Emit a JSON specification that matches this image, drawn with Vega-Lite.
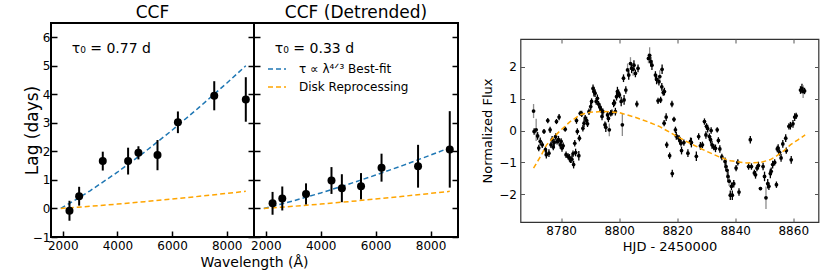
{
  "$schema": "https://vega.github.io/schema/vega-lite/v6.json",
  "padding": {"left": 22, "top": 3, "right": 5, "bottom": 5},
  "config": {
    "font": "DejaVu Sans",
    "view": {"stroke": "black", "strokeWidth": 2},
    "axis": {"domain": false, "grid": false, "tickColor": "black", "tickSize": -6, "tickWidth": 1.5, "labelFontSize": 12, "labelColor": "black", "titleColor": "black", "titleFontWeight": "normal", "labelPadding": 9, "labelFlush": false, "labelOverlap": false},
    "title": {"fontWeight": "normal", "fontSize": 17, "color": "black"}
  },
  "datasets": {
    "lags": [
      {"method": "CCF", "wl": 2246, "lag": -0.08, "err": 0.35},
      {"method": "CCF", "wl": 2600, "lag": 0.43, "err": 0.33},
      {"method": "CCF", "wl": 3465, "lag": 1.66, "err": 0.33},
      {"method": "CCF", "wl": 4392, "lag": 1.66, "err": 0.47},
      {"method": "CCF", "wl": 4770, "lag": 1.95, "err": 0.23},
      {"method": "CCF", "wl": 5468, "lag": 1.87, "err": 0.53},
      {"method": "CCF", "wl": 6215, "lag": 3.02, "err": 0.38},
      {"method": "CCF", "wl": 7545, "lag": 3.95, "err": 0.51},
      {"method": "CCF", "wl": 8700, "lag": 3.82, "err": 0.78},
      {"method": "Detrended", "wl": 2246, "lag": 0.18, "err": 0.40},
      {"method": "Detrended", "wl": 2600, "lag": 0.35, "err": 0.42},
      {"method": "Detrended", "wl": 3465, "lag": 0.51, "err": 0.37},
      {"method": "Detrended", "wl": 4392, "lag": 0.98, "err": 0.47},
      {"method": "Detrended", "wl": 4770, "lag": 0.71, "err": 0.49},
      {"method": "Detrended", "wl": 5468, "lag": 0.78, "err": 0.46},
      {"method": "Detrended", "wl": 6215, "lag": 1.43, "err": 0.49},
      {"method": "Detrended", "wl": 7545, "lag": 1.48, "err": 0.75},
      {"method": "Detrended", "wl": 8700, "lag": 2.07, "err": 1.34}
    ],
    "models": [
      {"method": "CCF", "model": "τ ∝ λ⁴ᐟ³ Best-fit", "wl": 1928, "lag": 0},
      {"method": "CCF", "model": "τ ∝ λ⁴ᐟ³ Best-fit", "wl": 2500, "lag": 0.32},
      {"method": "CCF", "model": "τ ∝ λ⁴ᐟ³ Best-fit", "wl": 3000, "lag": 0.62},
      {"method": "CCF", "model": "τ ∝ λ⁴ᐟ³ Best-fit", "wl": 4000, "lag": 1.27},
      {"method": "CCF", "model": "τ ∝ λ⁴ᐟ³ Best-fit", "wl": 5000, "lag": 1.98},
      {"method": "CCF", "model": "τ ∝ λ⁴ᐟ³ Best-fit", "wl": 6000, "lag": 2.74},
      {"method": "CCF", "model": "τ ∝ λ⁴ᐟ³ Best-fit", "wl": 7000, "lag": 3.55},
      {"method": "CCF", "model": "τ ∝ λ⁴ᐟ³ Best-fit", "wl": 8000, "lag": 4.39},
      {"method": "CCF", "model": "τ ∝ λ⁴ᐟ³ Best-fit", "wl": 8700, "lag": 5.0},
      {"method": "CCF", "model": "Disk Reprocessing", "wl": 1928, "lag": 0},
      {"method": "CCF", "model": "Disk Reprocessing", "wl": 2500, "lag": 0.038},
      {"method": "CCF", "model": "Disk Reprocessing", "wl": 3000, "lag": 0.075},
      {"method": "CCF", "model": "Disk Reprocessing", "wl": 4000, "lag": 0.153},
      {"method": "CCF", "model": "Disk Reprocessing", "wl": 5000, "lag": 0.238},
      {"method": "CCF", "model": "Disk Reprocessing", "wl": 6000, "lag": 0.33},
      {"method": "CCF", "model": "Disk Reprocessing", "wl": 7000, "lag": 0.426},
      {"method": "CCF", "model": "Disk Reprocessing", "wl": 8000, "lag": 0.527},
      {"method": "CCF", "model": "Disk Reprocessing", "wl": 8700, "lag": 0.6},
      {"method": "Detrended", "model": "τ ∝ λ⁴ᐟ³ Best-fit", "wl": 1928, "lag": 0},
      {"method": "Detrended", "model": "τ ∝ λ⁴ᐟ³ Best-fit", "wl": 2500, "lag": 0.137},
      {"method": "Detrended", "model": "τ ∝ λ⁴ᐟ³ Best-fit", "wl": 3000, "lag": 0.265},
      {"method": "Detrended", "model": "τ ∝ λ⁴ᐟ³ Best-fit", "wl": 4000, "lag": 0.543},
      {"method": "Detrended", "model": "τ ∝ λ⁴ᐟ³ Best-fit", "wl": 5000, "lag": 0.846},
      {"method": "Detrended", "model": "τ ∝ λ⁴ᐟ³ Best-fit", "wl": 6000, "lag": 1.17},
      {"method": "Detrended", "model": "τ ∝ λ⁴ᐟ³ Best-fit", "wl": 7000, "lag": 1.511},
      {"method": "Detrended", "model": "τ ∝ λ⁴ᐟ³ Best-fit", "wl": 8000, "lag": 1.87},
      {"method": "Detrended", "model": "τ ∝ λ⁴ᐟ³ Best-fit", "wl": 8700, "lag": 2.13},
      {"method": "Detrended", "model": "Disk Reprocessing", "wl": 1928, "lag": 0},
      {"method": "Detrended", "model": "Disk Reprocessing", "wl": 2500, "lag": 0.038},
      {"method": "Detrended", "model": "Disk Reprocessing", "wl": 3000, "lag": 0.075},
      {"method": "Detrended", "model": "Disk Reprocessing", "wl": 4000, "lag": 0.153},
      {"method": "Detrended", "model": "Disk Reprocessing", "wl": 5000, "lag": 0.238},
      {"method": "Detrended", "model": "Disk Reprocessing", "wl": 6000, "lag": 0.33},
      {"method": "Detrended", "model": "Disk Reprocessing", "wl": 7000, "lag": 0.426},
      {"method": "Detrended", "model": "Disk Reprocessing", "wl": 8000, "lag": 0.527},
      {"method": "Detrended", "model": "Disk Reprocessing", "wl": 8700, "lag": 0.6}
    ],
    "lc": [
      {"t": 8770.5, "f": 0.61, "e": 0.22, "src": "b"}, {"t": 8770.7, "f": -0.03, "e": 0.1, "src": "a"}, {"t": 8771.4, "f": 0.02, "e": 0.35, "src": "b"},
      {"t": 8771.9, "f": -0.17, "e": 0.12, "src": "a"}, {"t": 8772.3, "f": -0.55, "e": 0.1, "src": "a"}, {"t": 8772.8, "f": -0.34, "e": 0.12, "src": "a"},
      {"t": 8773.5, "f": -0.45, "e": 0.1, "src": "a"}, {"t": 8774.1, "f": -0.03, "e": 0.08, "src": "a"}, {"t": 8774.6, "f": -0.6, "e": 0.1, "src": "a"},
      {"t": 8774.9, "f": -0.76, "e": 0.12, "src": "a"}, {"t": 8775.4, "f": 0.31, "e": 0.08, "src": "a"}, {"t": 8775.8, "f": -0.71, "e": 0.12, "src": "a"},
      {"t": 8776.2, "f": 0.02, "e": 0.1, "src": "a"}, {"t": 8776.5, "f": -0.45, "e": 0.1, "src": "a"}, {"t": 8776.9, "f": -0.29, "e": 0.12, "src": "a"},
      {"t": 8777.3, "f": -0.52, "e": 0.1, "src": "a"}, {"t": 8777.6, "f": -0.38, "e": 0.12, "src": "a"}, {"t": 8778.1, "f": -0.19, "e": 0.1, "src": "a"},
      {"t": 8778.4, "f": 0.28, "e": 0.08, "src": "a"}, {"t": 8778.6, "f": -0.34, "e": 0.1, "src": "a"}, {"t": 8779.1, "f": -0.29, "e": 0.12, "src": "a"},
      {"t": 8779.3, "f": 0.42, "e": 0.1, "src": "a"}, {"t": 8779.7, "f": -0.45, "e": 0.12, "src": "a"}, {"t": 8780.0, "f": -0.34, "e": 0.1, "src": "a"},
      {"t": 8780.3, "f": -0.55, "e": 0.12, "src": "a"}, {"t": 8780.7, "f": -0.48, "e": 0.1, "src": "a"}, {"t": 8781.4, "f": 0.04, "e": 0.08, "src": "a"},
      {"t": 8781.7, "f": -0.76, "e": 0.1, "src": "a"}, {"t": 8782.4, "f": -0.81, "e": 0.1, "src": "a"}, {"t": 8782.9, "f": -0.86, "e": 0.12, "src": "a"},
      {"t": 8783.2, "f": -0.92, "e": 0.1, "src": "a"}, {"t": 8783.7, "f": -0.9, "e": 0.12, "src": "a"}, {"t": 8784.1, "f": -0.73, "e": 0.1, "src": "a"},
      {"t": 8784.3, "f": -1.07, "e": 0.12, "src": "a"}, {"t": 8784.7, "f": -0.4, "e": 0.1, "src": "a"}, {"t": 8785.0, "f": -0.69, "e": 0.12, "src": "a"},
      {"t": 8785.3, "f": 0.31, "e": 0.1, "src": "a"}, {"t": 8785.6, "f": -0.03, "e": 0.1, "src": "a"}, {"t": 8786.1, "f": -0.79, "e": 0.15, "src": "a"},
      {"t": 8786.3, "f": -0.24, "e": 0.1, "src": "a"}, {"t": 8786.6, "f": 0.54, "e": 0.08, "src": "a"}, {"t": 8787.1, "f": 0.52, "e": 0.1, "src": "a"},
      {"t": 8787.5, "f": 0.07, "e": 0.1, "src": "a"}, {"t": 8787.9, "f": 0.23, "e": 0.12, "src": "a"}, {"t": 8788.3, "f": 0.39, "e": 0.1, "src": "a"},
      {"t": 8788.8, "f": 0.31, "e": 0.12, "src": "a"}, {"t": 8789.1, "f": 0.21, "e": 0.1, "src": "a"}, {"t": 8789.6, "f": 0.59, "e": 0.1, "src": "a"},
      {"t": 8790.2, "f": 0.75, "e": 0.12, "src": "a"}, {"t": 8790.5, "f": 0.91, "e": 0.1, "src": "a"}, {"t": 8791.0, "f": 1.32, "e": 0.12, "src": "a"},
      {"t": 8791.3, "f": 1.22, "e": 0.15, "src": "a"}, {"t": 8791.7, "f": 1.17, "e": 0.12, "src": "a"}, {"t": 8792.1, "f": 0.91, "e": 0.1, "src": "a"},
      {"t": 8792.5, "f": 1.01, "e": 0.12, "src": "a"}, {"t": 8792.9, "f": 0.83, "e": 0.1, "src": "a"}, {"t": 8793.4, "f": 0.73, "e": 0.12, "src": "a"},
      {"t": 8793.8, "f": 0.65, "e": 0.1, "src": "a"}, {"t": 8794.1, "f": 0.44, "e": 0.12, "src": "a"}, {"t": 8794.4, "f": 0.59, "e": 0.1, "src": "a"},
      {"t": 8795.1, "f": 0.18, "e": 0.1, "src": "a"}, {"t": 8795.4, "f": 0.1, "e": 0.15, "src": "a"}, {"t": 8796.0, "f": 0.49, "e": 0.1, "src": "a"},
      {"t": 8796.3, "f": 0.38, "e": 0.12, "src": "a"}, {"t": 8796.6, "f": 0.02, "e": 0.2, "src": "b"}, {"t": 8797.1, "f": 0.54, "e": 0.1, "src": "a"},
      {"t": 8797.5, "f": 0.56, "e": 0.1, "src": "a"}, {"t": 8798.1, "f": 0.85, "e": 0.12, "src": "a"}, {"t": 8798.4, "f": 0.87, "e": 0.1, "src": "a"},
      {"t": 8798.7, "f": 0.59, "e": 0.12, "src": "a"}, {"t": 8799.1, "f": 1.06, "e": 0.12, "src": "a"}, {"t": 8799.4, "f": 1.22, "e": 0.15, "src": "a"},
      {"t": 8799.8, "f": 1.17, "e": 0.12, "src": "a"}, {"t": 8800.1, "f": 1.11, "e": 0.1, "src": "a"}, {"t": 8800.7, "f": 0.91, "e": 0.15, "src": "a"},
      {"t": 8801.1, "f": 0.18, "e": 0.35, "src": "b"}, {"t": 8801.5, "f": 1.64, "e": 0.12, "src": "a"}, {"t": 8801.7, "f": 0.96, "e": 0.15, "src": "a"},
      {"t": 8802.3, "f": 1.27, "e": 0.12, "src": "a"}, {"t": 8802.9, "f": 1.9, "e": 0.2, "src": "b"}, {"t": 8803.3, "f": 1.74, "e": 0.15, "src": "a"},
      {"t": 8803.9, "f": 2.1, "e": 0.2, "src": "b"}, {"t": 8804.3, "f": 1.95, "e": 0.15, "src": "a"}, {"t": 8804.8, "f": 1.92, "e": 0.2, "src": "b"},
      {"t": 8805.1, "f": 2.05, "e": 0.15, "src": "a"}, {"t": 8805.6, "f": 1.79, "e": 0.12, "src": "a"}, {"t": 8806.1, "f": 0.83, "e": 0.1, "src": "a"},
      {"t": 8806.5, "f": 1.95, "e": 0.12, "src": "a"}, {"t": 8810.1, "f": 2.26, "e": 0.15, "src": "b"}, {"t": 8810.5, "f": 2.36, "e": 0.25, "src": "b"},
      {"t": 8810.9, "f": 2.16, "e": 0.15, "src": "a"}, {"t": 8811.3, "f": 2.05, "e": 0.15, "src": "a"}, {"t": 8812.5, "f": 1.74, "e": 0.12, "src": "a"},
      {"t": 8812.9, "f": 1.6, "e": 0.15, "src": "a"}, {"t": 8813.4, "f": 0.93, "e": 0.1, "src": "a"}, {"t": 8813.7, "f": 1.53, "e": 0.12, "src": "a"},
      {"t": 8814.0, "f": 1.69, "e": 0.2, "src": "b"}, {"t": 8814.3, "f": 0.96, "e": 0.1, "src": "a"}, {"t": 8814.7, "f": 1.37, "e": 0.12, "src": "a"},
      {"t": 8814.8, "f": 1.92, "e": 0.15, "src": "a"}, {"t": 8815.2, "f": 1.19, "e": 0.1, "src": "a"}, {"t": 8815.6, "f": 1.22, "e": 0.12, "src": "a"},
      {"t": 8815.5, "f": 0.23, "e": 0.1, "src": "a"}, {"t": 8816.2, "f": 0.42, "e": 0.12, "src": "a"}, {"t": 8816.4, "f": -0.45, "e": 0.1, "src": "a"},
      {"t": 8817.4, "f": -0.79, "e": 0.1, "src": "a"}, {"t": 8818.2, "f": 0.83, "e": 0.1, "src": "a"}, {"t": 8818.3, "f": -1.35, "e": 0.12, "src": "a"},
      {"t": 8818.9, "f": 0.35, "e": 0.08, "src": "a"}, {"t": 8819.4, "f": 0.02, "e": 0.1, "src": "a"}, {"t": 8819.7, "f": -0.17, "e": 0.12, "src": "a"},
      {"t": 8820.6, "f": -0.24, "e": 0.1, "src": "a"}, {"t": 8820.9, "f": -0.32, "e": 0.12, "src": "a"}, {"t": 8821.3, "f": -0.4, "e": 0.1, "src": "a"},
      {"t": 8821.5, "f": -0.63, "e": 0.12, "src": "a"}, {"t": 8822.3, "f": -0.38, "e": 0.1, "src": "a"}, {"t": 8823.7, "f": -0.71, "e": 0.12, "src": "a"},
      {"t": 8824.6, "f": -0.34, "e": 0.12, "src": "a"}, {"t": 8824.9, "f": -0.38, "e": 0.15, "src": "a"}, {"t": 8826.6, "f": -0.81, "e": 0.15, "src": "a"},
      {"t": 8827.4, "f": -0.19, "e": 0.1, "src": "a"}, {"t": 8828.0, "f": -0.48, "e": 0.12, "src": "a"}, {"t": 8828.7, "f": -0.45, "e": 0.1, "src": "a"},
      {"t": 8829.4, "f": 0.28, "e": 0.1, "src": "a"}, {"t": 8829.9, "f": -0.14, "e": 0.12, "src": "a"}, {"t": 8830.1, "f": 0.13, "e": 0.1, "src": "a"},
      {"t": 8830.5, "f": 0.06, "e": 0.12, "src": "a"}, {"t": 8831.1, "f": -0.19, "e": 0.1, "src": "a"}, {"t": 8831.5, "f": -0.29, "e": 0.12, "src": "a"},
      {"t": 8831.7, "f": 0.0, "e": 0.1, "src": "a"}, {"t": 8832.0, "f": -0.45, "e": 0.12, "src": "a"}, {"t": 8832.6, "f": -0.52, "e": 0.1, "src": "a"},
      {"t": 8833.2, "f": -0.56, "e": 0.12, "src": "a"}, {"t": 8833.8, "f": 0.02, "e": 0.08, "src": "a"}, {"t": 8834.2, "f": -0.31, "e": 0.1, "src": "a"},
      {"t": 8834.7, "f": -0.58, "e": 0.12, "src": "a"}, {"t": 8835.4, "f": -0.83, "e": 0.1, "src": "a"}, {"t": 8836.5, "f": -0.97, "e": 0.12, "src": "a"},
      {"t": 8836.8, "f": -1.13, "e": 0.12, "src": "a"}, {"t": 8837.2, "f": -1.25, "e": 0.15, "src": "b"}, {"t": 8837.5, "f": -1.44, "e": 0.15, "src": "a"},
      {"t": 8837.9, "f": -1.59, "e": 0.15, "src": "b"}, {"t": 8838.3, "f": -2.03, "e": 0.15, "src": "a"}, {"t": 8838.7, "f": -1.75, "e": 0.12, "src": "a"},
      {"t": 8839.0, "f": -2.03, "e": 0.15, "src": "a"}, {"t": 8839.5, "f": -1.67, "e": 0.12, "src": "a"}, {"t": 8840.3, "f": -1.18, "e": 0.1, "src": "a"},
      {"t": 8840.9, "f": -1.0, "e": 0.1, "src": "a"}, {"t": 8841.3, "f": -1.93, "e": 0.12, "src": "a"}, {"t": 8844.6, "f": -1.13, "e": 0.1, "src": "a"},
      {"t": 8845.2, "f": -0.29, "e": 0.12, "src": "a"}, {"t": 8845.6, "f": -1.13, "e": 0.1, "src": "a"}, {"t": 8846.6, "f": -1.33, "e": 0.1, "src": "a"},
      {"t": 8847.0, "f": -1.39, "e": 0.12, "src": "a"}, {"t": 8847.5, "f": -1.18, "e": 0.1, "src": "a"}, {"t": 8848.0, "f": -1.1, "e": 0.12, "src": "a"},
      {"t": 8848.7, "f": -1.82, "e": 0.05, "src": "a"}, {"t": 8849.6, "f": -1.13, "e": 0.12, "src": "a"}, {"t": 8850.1, "f": -1.44, "e": 0.15, "src": "a"},
      {"t": 8850.6, "f": -2.11, "e": 0.35, "src": "b"}, {"t": 8851.2, "f": -1.67, "e": 0.15, "src": "a"}, {"t": 8851.6, "f": -1.75, "e": 0.12, "src": "a"},
      {"t": 8852.1, "f": -1.35, "e": 0.15, "src": "a"}, {"t": 8852.4, "f": -1.28, "e": 0.12, "src": "a"}, {"t": 8852.9, "f": -1.07, "e": 0.12, "src": "a"},
      {"t": 8853.6, "f": -1.0, "e": 0.1, "src": "a"}, {"t": 8854.2, "f": -1.7, "e": 0.1, "src": "a"}, {"t": 8854.5, "f": -0.58, "e": 0.1, "src": "a"},
      {"t": 8854.8, "f": -0.55, "e": 0.12, "src": "a"}, {"t": 8855.3, "f": -0.69, "e": 0.1, "src": "a"}, {"t": 8855.8, "f": -0.86, "e": 0.12, "src": "a"},
      {"t": 8856.4, "f": -0.42, "e": 0.12, "src": "a"}, {"t": 8857.4, "f": -0.24, "e": 0.12, "src": "a"}, {"t": 8857.6, "f": -0.63, "e": 0.1, "src": "a"},
      {"t": 8858.5, "f": 0.13, "e": 0.1, "src": "a"}, {"t": 8859.0, "f": 0.15, "e": 0.12, "src": "a"}, {"t": 8859.3, "f": -0.92, "e": 0.12, "src": "a"},
      {"t": 8859.9, "f": 0.21, "e": 0.12, "src": "a"}, {"t": 8860.5, "f": 0.42, "e": 0.12, "src": "a"}, {"t": 8861.0, "f": 0.46, "e": 0.1, "src": "a"},
      {"t": 8862.5, "f": 1.27, "e": 0.12, "src": "a"}, {"t": 8863.0, "f": 1.32, "e": 0.15, "src": "a"}, {"t": 8863.4, "f": 1.22, "e": 0.2, "src": "b"},
      {"t": 8863.9, "f": 1.24, "e": 0.1, "src": "a"}
    ],
    "fit": [
      {"t": 8770.5, "f": -1.18}, {"t": 8773, "f": -0.8}, {"t": 8775, "f": -0.45}, {"t": 8777.5, "f": -0.2},
      {"t": 8780, "f": 0.02}, {"t": 8783, "f": 0.27}, {"t": 8786.5, "f": 0.49}, {"t": 8790, "f": 0.57},
      {"t": 8794.5, "f": 0.6}, {"t": 8800, "f": 0.56}, {"t": 8805, "f": 0.43}, {"t": 8810, "f": 0.27},
      {"t": 8814, "f": 0.12}, {"t": 8820, "f": -0.19}, {"t": 8825, "f": -0.43}, {"t": 8830.3, "f": -0.66},
      {"t": 8835, "f": -0.85}, {"t": 8838.3, "f": -0.95}, {"t": 8844, "f": -1.02}, {"t": 8848.7, "f": -1.0},
      {"t": 8852, "f": -0.92}, {"t": 8854.4, "f": -0.79}, {"t": 8857, "f": -0.62}, {"t": 8859, "f": -0.45},
      {"t": 8861.5, "f": -0.3}, {"t": 8864.1, "f": -0.14}
    ]
  },
  "resolve": {"scale": {"color": "independent"}, "legend": {"color": "independent"}},
  "spacing": 20.5,
  "hconcat": [
    {
      "spacing": 0,
      "bounds": "flush",
      "resolve": {"scale": {"color": "independent"}, "legend": {"color": "independent"}},
      "hconcat": [
        {
          "width": 203, "height": 214,
          "title": {"text": "CCF", "fontSize": 17, "offset": 1},
          "resolve": {"axis": {"x": "independent", "y": "independent"}},
          "layer": [
            {
              "data": {"name": "models"},
              "transform": [{"filter": "datum.method === 'CCF'"}],
              "mark": {"type": "line", "strokeDash": [5, 3], "strokeWidth": 1.5},
              "encoding": {
                "x": {"field": "wl", "type": "quantitative", "scale": {"domain": [1570, 9000], "nice": false, "zero": false},
                      "axis": {"orient": "bottom", "values": [2000, 4000, 6000, 8000], "format": "d", "title": "Wavelength (Å)", "titleFontSize": 14, "titleX": 203, "titleAlign": "center"}},
                "y": {"field": "lag", "type": "quantitative", "scale": {"domain": [-1, 6.5], "nice": false, "zero": false},
                      "axis": {"orient": "left", "values": [-1, 0, 1, 2, 3, 4, 5, 6], "format": "d", "title": "Lag (days)", "titleFontSize": 17, "titlePadding": -9.5, "labelPadding": 7}},
                "color": {"field": "model", "type": "nominal", "scale": {"domain": ["τ ∝ λ⁴ᐟ³ Best-fit", "Disk Reprocessing"], "range": ["#1f77b4", "#ffa500"]}, "legend": null}
              }
            },
            {
              "data": {"name": "lags"},
              "transform": [{"filter": "datum.method === 'CCF'"}],
              "mark": {"type": "errorbar", "thickness": 2, "color": "black"},
              "encoding": {
                "x": {"field": "wl", "type": "quantitative", "axis": null},
                "y": {"field": "lag", "type": "quantitative", "axis": null},
                "yError": {"field": "err"}
              }
            },
            {
              "data": {"name": "lags"},
              "transform": [{"filter": "datum.method === 'CCF'"}],
              "mark": {"type": "point", "filled": true, "size": 64, "color": "black", "opacity": 1},
              "encoding": {
                "x": {"field": "wl", "type": "quantitative", "axis": null},
                "y": {"field": "lag", "type": "quantitative", "axis": {"orient": "right", "values": [-1, 0, 1, 2, 3, 4, 5, 6], "labels": false, "title": null}}
              }
            },
            {
              "data": {"values": [{}]},
              "mark": {"type": "text", "align": "left", "baseline": "middle", "fontSize": 14, "color": "black"},
              "encoding": {
                "x": {"datum": 2330, "type": "quantitative", "axis": null},
                "y": {"datum": 5.6, "type": "quantitative", "axis": null},
                "text": {"value": "τ₀ = 0.77 d"}
              }
            }
          ]
        },
        {
          "width": 204, "height": 214,
          "title": {"text": "CCF (Detrended)", "fontSize": 17, "offset": 1},
          "resolve": {"axis": {"x": "independent", "y": "independent"}},
          "layer": [
            {
              "data": {"name": "models"},
              "transform": [{"filter": "datum.method === 'Detrended'"}],
              "mark": {"type": "line", "strokeDash": [5, 3], "strokeWidth": 1.5},
              "encoding": {
                "x": {"field": "wl", "type": "quantitative", "scale": {"domain": [1570, 9000], "nice": false, "zero": false},
                      "axis": {"orient": "bottom", "values": [2000, 4000, 6000, 8000], "format": "d", "title": null}},
                "y": {"field": "lag", "type": "quantitative", "scale": {"domain": [-1, 6.5], "nice": false, "zero": false},
                      "axis": {"orient": "left", "values": [-1, 0, 1, 2, 3, 4, 5, 6], "labels": false, "title": null}},
                "color": {"field": "model", "type": "nominal", "scale": {"domain": ["τ ∝ λ⁴ᐟ³ Best-fit", "Disk Reprocessing"], "range": ["#1f77b4", "#ffa500"]},
                          "legend": {"orient": "none", "legendX": 13, "legendY": 36, "title": null, "symbolType": "stroke", "symbolDash": [5, 3], "symbolStrokeWidth": 1.5, "symbolSize": 324, "labelFontSize": 12, "labelOffset": 12, "rowPadding": 2, "labelColor": "black"}}
              }
            },
            {
              "data": {"name": "lags"},
              "transform": [{"filter": "datum.method === 'Detrended'"}],
              "mark": {"type": "errorbar", "thickness": 2, "color": "black"},
              "encoding": {
                "x": {"field": "wl", "type": "quantitative", "axis": null},
                "y": {"field": "lag", "type": "quantitative", "axis": null},
                "yError": {"field": "err"}
              }
            },
            {
              "data": {"name": "lags"},
              "transform": [{"filter": "datum.method === 'Detrended'"}],
              "mark": {"type": "point", "filled": true, "size": 64, "color": "black", "opacity": 1},
              "encoding": {
                "x": {"field": "wl", "type": "quantitative", "axis": null},
                "y": {"field": "lag", "type": "quantitative", "axis": {"orient": "right", "values": [-1, 0, 1, 2, 3, 4, 5, 6], "labels": false, "title": null}}
              }
            },
            {
              "data": {"values": [{}]},
              "mark": {"type": "text", "align": "left", "baseline": "middle", "fontSize": 14, "color": "black"},
              "encoding": {
                "x": {"datum": 2330, "type": "quantitative", "axis": null},
                "y": {"datum": 5.6, "type": "quantitative", "axis": null},
                "text": {"value": "τ₀ = 0.33 d"}
              }
            }
          ]
        }
      ]
    },
    {
      "spacing": 10,
      "vconcat": [
        {
          "width": 298, "height": 1,
          "view": {"stroke": null},
          "data": {"values": [{}]},
          "mark": {"type": "point", "opacity": 0}
        },
        {
          "width": 298, "height": 183,
          "view": {"stroke": "#333333", "strokeWidth": 1.2},
          "resolve": {"axis": {"x": "independent", "y": "independent"}},
          "layer": [
            {
              "data": {"name": "lc"},
              "mark": {"type": "errorbar", "thickness": 1.3},
              "encoding": {
                "x": {"field": "t", "type": "quantitative", "scale": {"domain": [8766, 8868.7], "nice": false, "zero": false},
                      "axis": {"orient": "bottom", "values": [8780, 8800, 8820, 8840, 8860], "format": "d", "title": "HJD - 2450000", "titleFontSize": 13, "tickSize": -4, "tickWidth": 1, "tickColor": "#555555", "labelPadding": 7}},
                "y": {"field": "f", "type": "quantitative", "scale": {"domain": [-2.87, 2.87], "nice": false, "zero": false},
                      "axis": {"orient": "left", "values": [-2, -1, 0, 1, 2], "format": "d", "title": "Normalized Flux", "titleFontSize": 13, "tickSize": -4, "tickWidth": 1, "tickColor": "#555555", "labelPadding": 8}},
                "yError": {"field": "e"},
                "color": {"field": "src", "type": "nominal", "scale": {"domain": ["a", "b"], "range": ["#000000", "#8c8c8c"]}, "legend": null}
              }
            },
            {
              "data": {"name": "lc"},
              "mark": {"type": "point", "filled": true, "size": 14, "color": "black", "opacity": 1},
              "encoding": {
                "x": {"field": "t", "type": "quantitative", "axis": {"orient": "top", "values": [8780, 8800, 8820, 8840, 8860], "labels": false, "title": null, "tickSize": -4, "tickWidth": 1, "tickColor": "#555555"}},
                "y": {"field": "f", "type": "quantitative", "axis": {"orient": "right", "values": [-2, -1, 0, 1, 2], "labels": false, "title": null, "tickSize": -4, "tickWidth": 1, "tickColor": "#555555"}}
              }
            },
            {
              "data": {"name": "fit"},
              "mark": {"type": "line", "color": "#ffa500", "strokeDash": [5, 3], "strokeWidth": 1.5},
              "encoding": {
                "x": {"field": "t", "type": "quantitative", "axis": null},
                "y": {"field": "f", "type": "quantitative", "axis": null}
              }
            }
          ]
        }
      ]
    }
  ]
}
